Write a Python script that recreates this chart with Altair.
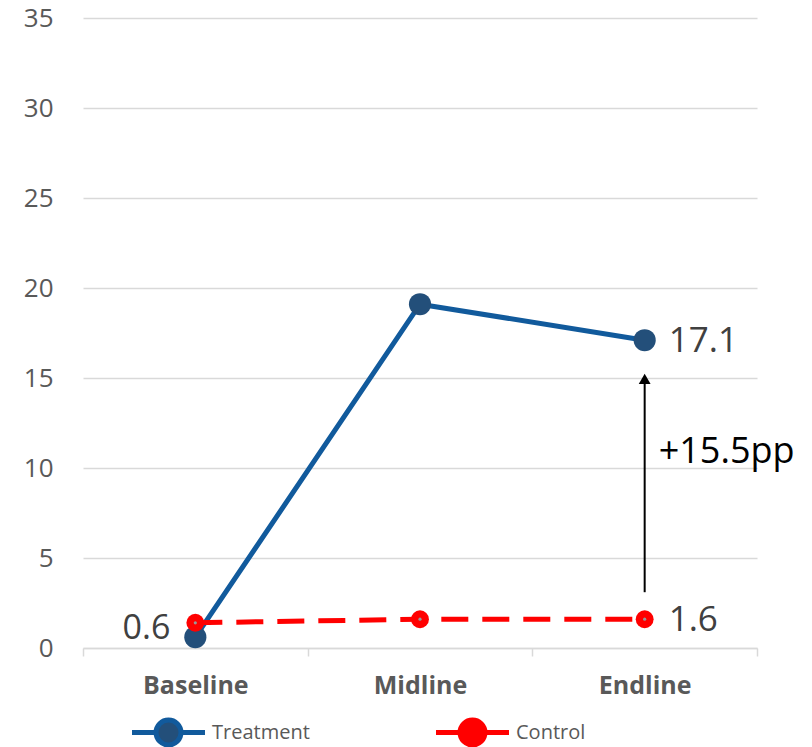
import altair as alt
import pandas as pd

categories = ["Baseline", "Midline", "Endline"]
treatment = [0.6, 19.1, 17.1]
control = [1.4, 1.6, 1.6]
series_names = ["Treatment", "Control"]
y_ticks = [0, 5, 10, 15, 20, 25, 30, 35]

# annotation values
label_treat = ["0.6", "", "17.1"]
label_ctrl = ["", "", "1.6"]
arrow_from = 3.1
arrow_to = 14.9
arrow_text = "+15.5pp"
arrow_text_y = 10.9
arrow_cat = "Endline"

rows = []
for c, t, lt in zip(categories, treatment, label_treat):
    rows.append({"cat": c, "value": t, "series": "Treatment", "label": lt})
for c, v, lc in zip(categories, control, label_ctrl):
    rows.append({"cat": c, "value": v, "series": "Control", "label": lc})
df = pd.DataFrame(rows)

BLUE = "#115A9C"
MARK_BLUE = "#234F7A"
RED = "#FF0000"
FONT = "Open Sans"

x_enc = alt.X(
    "cat:N",
    sort=categories,
    scale=alt.Scale(type="band", domain=categories, paddingInner=0, paddingOuter=0),
    axis=alt.Axis(
        title=None, labelAngle=0, labelFontSize=25, labelFontWeight="bold",
        labelColor="#595959", labelFont=FONT, labelPadding=17,
        domainColor="#d9d9d9", domainWidth=1.5, tickColor="#d9d9d9", tickSize=8,
        tickWidth=1.5, tickBand="extent", grid=False,
    ),
)
y_scale = alt.Scale(domain=[0, 35], nice=False)
y_enc = alt.Y(
    "value:Q",
    scale=y_scale,
    axis=alt.Axis(
        title=None, values=y_ticks, labelFontSize=26, labelColor="#595959",
        labelFont=FONT, labelPadding=30, domain=False, ticks=False,
        gridColor="#d9d9d9", gridWidth=1.5,
    ),
)

stroke_scale = alt.Scale(domain=series_names, range=[BLUE, RED])
fill_scale = alt.Scale(domain=series_names, range=[MARK_BLUE, RED])

t_df = df[df.series == "Treatment"]
c_df = df[df.series == "Control"]

legend = alt.Legend(
    title=None, orient="none", legendX=73, legendY=702, direction="horizontal",
    padding=0,
    symbolType="M-3.65,0H-1.25M1.25,0H3.65M-1.25,0A1.25,1.25 0 1,1 1.25,0A1.25,1.25 0 1,1 -1.25,0Z",
    symbolSize=400, symbolStrokeWidth=5, labelFontSize=20, labelFont=FONT,
    labelColor="#595959", columnPadding=116, labelOffset=31, symbolOpacity=1,
)

t_line = alt.Chart(t_df).mark_line(strokeWidth=5).encode(
    x=x_enc, y=y_enc,
    stroke=alt.Stroke("series:N", scale=stroke_scale, legend=legend),
)
t_pts = alt.Chart(t_df).mark_point(filled=True, size=490, opacity=1, strokeWidth=0).encode(
    x=x_enc, y=y_enc,
    fill=alt.Fill("series:N", scale=fill_scale, legend=legend),
)
c_line = alt.Chart(c_df).mark_line(strokeWidth=5, strokeDash=[27, 14]).encode(
    x=x_enc, y=y_enc,
    stroke=alt.Stroke("series:N", scale=stroke_scale, legend=legend),
)
c_pts = alt.Chart(c_df).mark_point(filled=True, size=320, opacity=1, strokeWidth=0).encode(
    x=x_enc, y=y_enc,
    fill=alt.Fill("series:N", scale=fill_scale, legend=legend),
)
c_dots = alt.Chart(c_df).mark_point(filled=True, size=10, opacity=1, color="#999999").encode(
    x=x_enc, y=y_enc,
)

lbl_left = alt.Chart(t_df[t_df.cat == "Baseline"]).mark_text(
    align="right", baseline="middle", dx=-25, dy=-8, fontSize=34, font=FONT, color="#404040"
).encode(x=x_enc, y=y_enc, text="label:N")
lbl_right_t = alt.Chart(t_df[t_df.cat == "Endline"]).mark_text(
    align="left", baseline="middle", dx=24, dy=1, fontSize=35, font=FONT, color="#404040"
).encode(x=x_enc, y=y_enc, text="label:N")
lbl_right_c = alt.Chart(c_df[c_df.cat == "Endline"]).mark_text(
    align="left", baseline="middle", dx=24, dy=1, fontSize=35, font=FONT, color="#404040"
).encode(x=x_enc, y=y_enc, text="label:N")

arrow_df = pd.DataFrame([{"cat": arrow_cat, "y1": arrow_from, "y2": arrow_to,
                          "tip": arrow_to + 0.05, "ty": arrow_text_y, "txt": arrow_text}])
arrow_rule = alt.Chart(arrow_df).mark_rule(color="black", strokeWidth=2).encode(
    x=x_enc,
    y=alt.Y("y1:Q", scale=y_scale),
    y2="y2:Q",
)
arrow_head = alt.Chart(arrow_df).mark_point(
    shape="triangle-up", filled=True, size=140, color="black", opacity=1
).encode(x=x_enc, y=alt.Y("tip:Q", scale=y_scale))
arrow_lbl = alt.Chart(arrow_df).mark_text(
    align="left", baseline="middle", dx=14, fontSize=36, font=FONT, color="black"
).encode(x=x_enc, y=alt.Y("ty:Q", scale=y_scale), text="txt:N")

chart = alt.layer(
    t_line, t_pts, c_line, c_pts, c_dots, lbl_left, lbl_right_t, lbl_right_c,
    arrow_rule, arrow_head, arrow_lbl,
).properties(
    width=674, height=630,
    autosize=alt.AutoSizeParams(type="none"),
    padding={"left": 83, "top": 18, "right": 55, "bottom": 99},
    background="white",
).configure_view(stroke=None)

chart.save("out.html", embed_options={"renderer": "svg", "actions": False})
